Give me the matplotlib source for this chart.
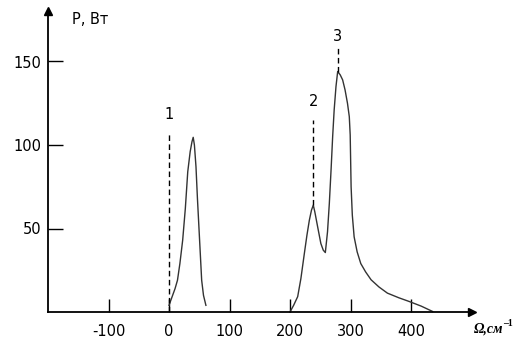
import matplotlib
matplotlib.use("Agg")
import matplotlib.pyplot as plt

# Peak 1 curve
p1_x = [0, 5, 10, 14, 18, 22.6, 27, 31, 35, 38, 40, 42, 44.6, 47, 50, 54, 57, 61]
p1_y = [4, 9, 14, 19, 29, 43, 62, 84, 96, 102, 104.6, 100, 87, 68, 47, 19, 10, 4]

# Peaks 2 and 3 curve
p23_x = [200, 206, 212.7, 218, 223.7, 228, 232, 235.5, 238.5, 241, 245.7, 251, 255, 258.4,
         262, 265, 268, 270.5, 273, 276, 278.8, 283, 287, 291, 295, 298, 299.5, 301, 303,
         306, 311, 317, 325, 334, 347, 361, 380, 397, 417, 435.8]
p23_y = [0, 4, 9.2, 20, 35, 46, 55, 61, 64, 60, 51, 41, 37, 35.6,
         48, 65, 86, 105, 121, 135, 144, 142, 139, 133, 125, 117, 106, 75, 58,
         45, 36, 29, 24, 19.3, 15, 11.3, 8.5, 6.3, 3.5, 0.3]

# Marker lines: (x, y_bottom, y_top, label, label_y)
mark_x = [0, 238.5, 278.8]
mark_y0 = [0, 64, 144]
mark_y1 = [108, 115, 158]
mark_labels = ["1", "2", "3"]
mark_label_y = [118, 126, 165]

xticks = [-100, 0, 100, 200, 300, 400]
yticks = [50, 100, 150]

fig = plt.figure(figsize=(5.18, 3.62), dpi=100)
ax = fig.add_axes([48/518, 50/362, 423.5/518, 300.6/362])
ax.set_xlim(-200, 500)
ax.set_ylim(0, 180)

for s in ["top", "right"]:
    ax.spines[s].set_visible(False)
for s in ["left", "bottom"]:
    ax.spines[s].set_linewidth(1.3)
    ax.spines[s].set_color("black")

ax.plot(p1_x, p1_y, color="#333333", lw=1.0, clip_on=False)
ax.plot(p23_x, p23_y, color="#333333", lw=1.0, clip_on=False)

for x, y0, y1, lab, ly in zip(mark_x, mark_y0, mark_y1, mark_labels, mark_label_y):
    ax.plot([x, x], [y0, y1], color="black", lw=1.0, ls=(0, (4, 2.5)))
    ax.text(x, ly, lab, ha="center", va="center", fontsize=10.5, family="DejaVu Sans")

ax.set_xticks(xticks)
ax.set_xticklabels([str(v) for v in xticks])
ax.set_yticks(yticks)
ax.set_yticklabels([str(v) for v in yticks])
ax.tick_params(axis="x", direction="in", length=9.5, width=1, pad=9, labelsize=10.5)
ax.tick_params(axis="y", direction="in", length=11, width=1, pad=5, labelsize=10.5)

# arrowheads
ax.plot([500], [0], marker=">", color="black", markersize=5.5, clip_on=False)
ax.plot([-200], [180], marker="^", color="black", markersize=5.5, clip_on=False)

ax.text(-160, 175, "P, Вт", ha="left", va="center", fontsize=10.5)
fig.text(474/518, 1 - 329/362, "Ω,см", ha="left", va="center", fontsize=10,
         family="Liberation Serif", weight="bold", style="italic")
fig.text(503.5/518, 1 - 323/362, "–1", ha="left", va="center", fontsize=7,
         family="Liberation Serif", weight="bold")

fig.savefig("out.png", dpi=100)
